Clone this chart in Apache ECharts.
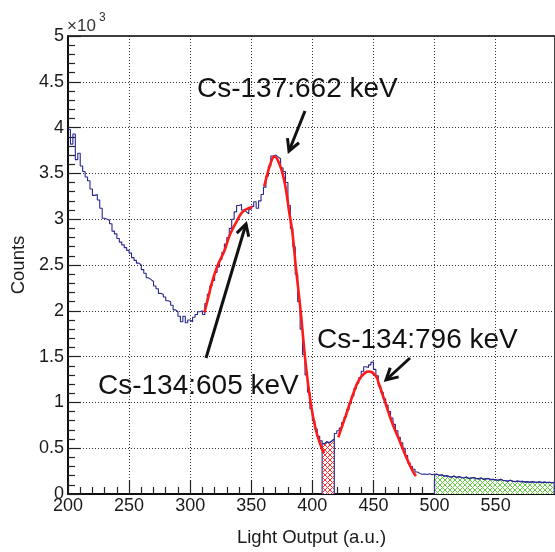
<!DOCTYPE html>
<html>
<head>
<meta charset="utf-8">
<script src="https://cdn.jsdelivr.net/npm/echarts@6/dist/echarts.min.js"></script>
<style>
html,body{margin:0;padding:0;background:#fff;}
#chart{width:555px;height:552px;}
</style>
</head>
<body>
<div id="chart"></div>
<script>
// ---- data ----
const binStart = 200;
const binWidth = 2;
const counts = [
3980,3820,3930,3650,3720,3580,3520,3460,3420,3330,
3260,3270,3210,3120,3010,3000,2990,2950,2870,2840,
2790,2750,2720,2690,2660,2630,2580,2550,2520,2500,
2450,2410,2360,2340,2320,2270,2240,2190,2180,2150,
2110,2100,2060,2010,1990,1940,1880,1940,1870,1900,
1880,1930,1960,1990,2000,1960,2080,2180,2270,2330,
2420,2480,2560,2640,2730,2800,2900,3000,3080,3150,
3160,3100,3080,3060,3110,3140,3190,3120,3200,3270,
3350,3470,3580,3690,3700,3680,3660,3560,3520,3400,
3150,2900,2700,2400,2100,1800,1520,1300,1110,930,
800,710,630,580,550,570,560,580,600,660,
690,720,780,840,920,990,1070,1150,1210,1270,
1340,1390,1380,1410,1440,1360,1290,1180,1110,1040,
970,900,830,760,690,620,560,500,420,340,
300,270,240,225,215,218,212,220,210,215,
215,205,210,195,200,190,185,195,180,190,
180,175,185,170,175,180,170,165,175,160,
165,170,158,160,155,150,160,150,145,140,
150,140,135,142,135,138,130,135,128,135,
130,128,132,125,130,125,128,122,128
];
const fit605 = [[311.7,1982],[314.4,2124],[317.7,2301],[322,2479],[328,2655],[332.6,2832],[338,2974],[342.9,3080],[348.4,3122],[351,3133]];
const fit662 = [[360.6,3360],[364.6,3560],[367.4,3665],[368.7,3685],[370.5,3670],[372.8,3610],[375.5,3505],[378.3,3330],[381,3080],[383.7,2850],[386.3,2500],[390.5,1985],[394.6,1415],[398.7,990],[402.7,710],[406.8,530],[409.5,443]];
const fit796 = [[421.2,620],[427.2,850],[432.6,1062],[438,1240],[443.5,1328],[446.2,1338],[451.7,1292],[454.4,1204],[459.8,992],[465.2,780],[470.7,602],[476.1,425],[481.5,265],[484.8,195]];
const redRange = [408, 418];
const greenRange = [500, 598];
const xTicks = [200, 250, 300, 350, 400, 450, 500, 550];
const yTicks = [0, 500, 1000, 1500, 2000, 2500, 3000, 3500, 4000, 4500, 5000];
const labels = ["Cs-137:662 keV", "Cs-134:796 keV", "Cs-134:605 keV"];

// ---- build histogram points ----
const hist = counts.map((v, i) => [binStart + i * binWidth, v]);
hist.push([binStart + counts.length * binWidth, counts[counts.length - 1]]);

function region(lo, hi) {
  const pts = [[lo, 0]];
  for (let i = 0; i < counts.length; i++) {
    const x = binStart + i * binWidth;
    if (x >= lo && x < hi) pts.push([x, counts[i]]);
  }
  const last = pts[pts.length - 1][1];
  pts.push([hi, last]);
  pts.push([hi, 0]);
  return pts;
}

function hatch(color) {
  const c = document.createElement('canvas');
  c.width = 5; c.height = 5;
  const g = c.getContext('2d');
  g.fillStyle = '#fff';
  g.fillRect(0, 0, 5, 5);
  g.strokeStyle = color;
  g.lineWidth = 1;
  g.beginPath();
  g.moveTo(0, 0); g.lineTo(5, 5);
  g.moveTo(5, 0); g.lineTo(0, 5);
  g.stroke();
  return c;
}

function arrow(x1, y1, x2, y2) {
  const dx = x2 - x1, dy = y2 - y1;
  const len = Math.sqrt(dx * dx + dy * dy);
  const ux = dx / len, uy = dy / len;
  const L = 13, a = 0.5;
  const c = Math.cos(a), s = Math.sin(a);
  const p1 = [x2 - L * (ux * c - uy * s), y2 - L * (uy * c + ux * s)];
  const p2 = [x2 - L * (ux * c + uy * s), y2 - L * (uy * c - ux * s)];
  return [
    {type: 'polyline', shape: {points: [[x1, y1], [x2, y2]]}, style: {stroke: '#111', lineWidth: 3}},
    {type: 'polyline', shape: {points: [p1, [x2, y2], p2]}, style: {stroke: '#111', lineWidth: 3, fill: null}}
  ];
}

const chart = echarts.init(document.getElementById('chart'), null, {renderer: 'canvas'});
const font = 'Liberation Sans, Arial, sans-serif';
const option = {
  animation: false,
  backgroundColor: '#fff',
  grid: {left: 68, top: 36, right: -2, bottom: 45, show: true, borderColor: '#000', borderWidth: 1.5, backgroundColor: 'transparent'},
  xAxis: {
    type: 'value', min: 200, max: 598.6, interval: 50,
    name: 'Light Output (a.u.)', nameLocation: 'middle', nameGap: 34,
    nameTextStyle: {fontFamily: font, fontSize: 18.5, color: '#1a1a1a'},
    axisLine: {lineStyle: {color: '#000', width: 1.5}},
    axisTick: {inside: true, length: 14, lineStyle: {color: '#222', width: 1.2}},
    minorTick: {show: true, splitNumber: 5, length: 7, lineStyle: {color: '#222', width: 1.2}},
    axisLabel: {fontFamily: font, fontSize: 18, color: '#1a1a1a', margin: 3, showMaxLabel: false,
      formatter: v => (xTicks.indexOf(v) >= 0 ? String(v) : '')},
    splitLine: {show: true, lineStyle: {color: '#333', type: [1, 2], width: 1}}
  },
  yAxis: {
    type: 'value', min: 0, max: 5000, interval: 500,
    name: 'Counts', nameLocation: 'middle', nameGap: 40,
    nameTextStyle: {fontFamily: font, fontSize: 18.5, color: '#1a1a1a'},
    axisLine: {show: true, lineStyle: {color: '#000', width: 1.5}},
    axisTick: {show: true, inside: true, length: 13, lineStyle: {color: '#222', width: 1.2}},
    minorTick: {show: true, splitNumber: 5, length: 7, lineStyle: {color: '#222', width: 1.2}},
    axisLabel: {fontFamily: font, fontSize: 18, color: '#1a1a1a', margin: 4,
      formatter: v => (yTicks.indexOf(v) >= 0 ? String(v / 1000) : '')},
    splitLine: {show: true, lineStyle: {color: '#333', type: [1, 2], width: 1}}
  },
  series: [
    {type: 'line', step: 'end', data: region(redRange[0], redRange[1]), showSymbol: false,
      lineStyle: {color: '#3a3a9a', width: 1.2},
      areaStyle: {color: {image: hatch('#ff3030'), repeat: 'repeat'}, opacity: 1}, z: 2},
    {type: 'line', step: 'end', data: region(greenRange[0], greenRange[1]), showSymbol: false,
      lineStyle: {color: '#3a3a9a', width: 1.2},
      areaStyle: {color: {image: hatch('#66cc44'), repeat: 'repeat'}, opacity: 1}, z: 2},
    {type: 'line', step: 'end', data: hist, showSymbol: false,
      lineStyle: {color: '#27278f', width: 1.1}, z: 3},
    {type: 'line', smooth: true, data: fit605, showSymbol: false, lineStyle: {color: '#ff1a1a', width: 2.6}, z: 4},
    {type: 'line', smooth: true, data: fit662, showSymbol: false, lineStyle: {color: '#ff1a1a', width: 2.6}, z: 4},
    {type: 'line', smooth: true, data: fit796, showSymbol: false, lineStyle: {color: '#ff1a1a', width: 2.6}, z: 4}
  ],
  graphic: [
    {type: 'text', left: 67, top: 18, style: {text: '×10', font: '17px ' + font, fill: '#333'}},
    {type: 'text', left: 99, top: 12, style: {text: '3', font: '12px ' + font, fill: '#333'}},
    {type: 'text', x: 197, y: 89, style: {text: labels[0], font: '28px ' + font, fill: '#111', verticalAlign: 'middle'}},
    {type: 'text', x: 317, y: 340, style: {text: labels[1], font: '28px ' + font, fill: '#111', verticalAlign: 'middle'}},
    {type: 'text', x: 98, y: 386, style: {text: labels[2], font: '28px ' + font, fill: '#111', verticalAlign: 'middle'}}
  ].concat(arrow(305, 111, 289, 151), arrow(206, 358, 246, 224), arrow(410, 358, 386, 380))
};
chart.setOption(option);
</script>
</body>
</html>
